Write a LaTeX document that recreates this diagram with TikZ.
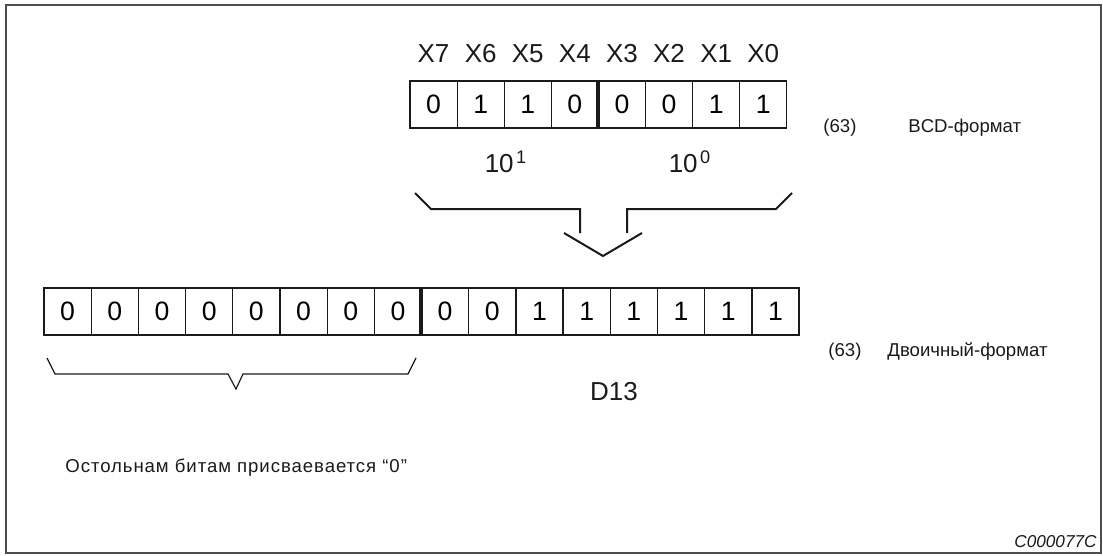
\documentclass[tikz,border=0pt]{standalone}
\usepackage{fontspec}
\setmainfont{Liberation Sans}
\newfontfamily\spacedfont[LetterSpace=5]{Liberation Sans}
\usetikzlibrary{positioning}
\definecolor{framegray}{HTML}{4D4D4D}
\definecolor{inkblack}{HTML}{1A1A1A}

\begin{document}
\begin{tikzpicture}[
  x=0.5pt, y=-0.5pt,
  bitcell/.style={rectangle, draw=inkblack, line width=0.6pt, minimum width=23.55pt, minimum height=23.5pt, inner sep=0pt, outer sep=0pt, font=\fontsize{13.3}{15}\selectfont},
  biglabel/.style={inner sep=0pt, font=\fontsize{13}{15}\selectfont, text=inkblack},
  smalltext/.style={inner sep=0pt, font=\fontsize{9.3}{11}\selectfont, text=inkblack},
  sepline/.style={draw=inkblack, line width=2pt},
  brace/.style={draw=inkblack, line width=1pt},
  thinbrace/.style={draw=inkblack, line width=0.6pt},
  framebox/.style={draw=framegray, line width=0.7pt}
]
  \useasboundingbox (0,0) rectangle (1103,556);
  \draw[framebox] (6,5) rectangle (1101,553);

  % BCD register
  \foreach \v [count=\i from 0] in {0,1,1,0,0,0,1,1} {
    \node[bitcell] (t\i) at ({433.55+47.1*\i},104.5) {\v};
    \pgfmathtruncatemacro{\n}{7-\i}
    \node[biglabel, above=9.15pt of t\i] (x\n) {X\n};
  }
  \draw[sepline] (t3.north east) -- (t3.south east);
  \node[biglabel, anchor=base] (tens) at (506,172) {10\kern1.2pt\textsuperscript{1}};
  \node[biglabel, anchor=base] (ones) at (690,172) {10\kern1.2pt\textsuperscript{0}};
  \node[smalltext, anchor=base west] (bcdnum) at (823,133) {(63)};
  \node[smalltext, anchor=base west] (bcdname) at (908,133) {BCD-формат};

  % conversion braces
  \draw[brace] (415,193) -- (431,209) -- (580,209) -- (580,233);
  \draw[brace] (792,193) -- (776,209) -- (627,209) -- (627,233);
  \draw[brace] (564,233) -- (603,256) -- (642,233);

  % binary register D13
  \foreach \v [count=\i from 0] in {0,0,0,0,0,0,0,0,0,0,1,1,1,1,1,1} {
    \node[bitcell] (b\i) at ({67.6+47.19*\i},311.5) {\v};
  }
  \draw[sepline] (b7.north east) -- (b7.south east);
  \node[smalltext, anchor=base west] (binnum) at (828,356) {(63)};
  \node[smalltext, anchor=base west] (binname) at (887,356) {Двоичный-формат};
  \node[biglabel, anchor=base] (dreg) at (614,400) {D13};

  \draw[thinbrace] (47,358) -- (55,374) -- (228,374) -- (236,389) -- (243,374) -- (408,374) -- (416,358);
  \node[smalltext, anchor=base west, font=\fontsize{9.3}{11}\spacedfont] (rest) at (65,472) {Остольнам битам присваевается “0”};

  \node[smalltext, anchor=base east, font=\fontsize{8.6}{10}\selectfont\itshape] (figid) at (1097,547) {C000077C};
\end{tikzpicture}
\end{document}
